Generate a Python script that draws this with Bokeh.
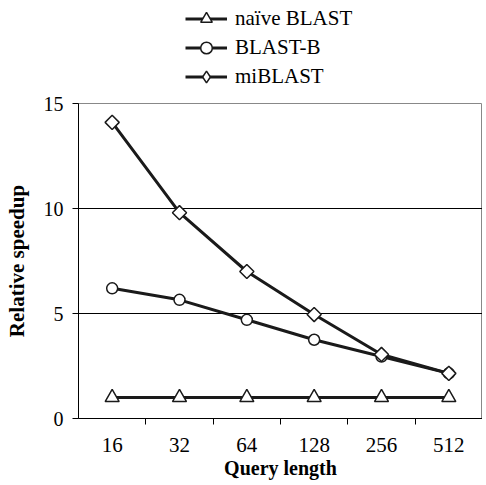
import math
from bokeh.plotting import figure
from bokeh.layouts import column
from bokeh.models import Legend, LegendItem, FixedTicker, Range1d
from bokeh.embed import file_html
from bokeh.resources import INLINE

# Data
query_lengths = ["16", "32", "64", "128", "256", "512"]
naive_blast = [1.0, 1.0, 1.0, 1.0, 1.0, 1.0]
blast_b = [6.2, 5.65, 4.7, 3.75, 2.95, 2.15]
miblast = [14.1, 9.8, 7.0, 4.95, 3.05, 2.15]
y_ticks = [0, 5, 10, 15]

FONT = "Times New Roman"
BOLD_FONT = "Liberation Serif"
LINE = "#1a1a1a"

xs = [i + 0.5 for i in range(len(query_lengths))]

p = figure(width=482, height=385, output_backend="svg", toolbar_location=None,
           x_range=Range1d(0, len(query_lengths)), y_range=Range1d(0, 15),
           min_border_left=78, min_border_right=0, min_border_top=7, min_border_bottom=63,
           background_fill_color="white", border_fill_color="white")

p.outline_line_color = "#888888"
p.outline_line_width = 1

# axes
p.xaxis.ticker = FixedTicker(ticks=xs, minor_ticks=list(range(1, len(query_lengths))))
p.xaxis.major_label_overrides = {x: lab for x, lab in zip(xs, query_lengths)}
p.xaxis.major_tick_line_color = None
p.xaxis.minor_tick_in = 0
p.xaxis.minor_tick_out = 6
p.xaxis.minor_tick_line_color = "black"
p.xaxis.axis_line_color = "black"
p.xaxis.major_label_standoff = 13
p.xaxis.axis_label = "Query length"
p.xaxis.axis_label_standoff = 2

p.yaxis.ticker = FixedTicker(ticks=y_ticks)
p.yaxis.minor_tick_line_color = None
p.yaxis.major_tick_in = 0
p.yaxis.major_tick_out = 6
p.yaxis.major_tick_line_color = "black"
p.yaxis.axis_line_color = "black"
p.yaxis.major_label_standoff = 9
p.yaxis.axis_label = "Relative speedup"
p.yaxis.axis_label_standoff = 12

for ax in (p.xaxis[0], p.yaxis[0]):
    ax.major_label_text_font = FONT
    ax.major_label_text_font_size = "20px"
    ax.major_label_text_color = "black"
    ax.major_label_text_line_height = 1.0
    ax.axis_label_text_font = BOLD_FONT
    ax.axis_label_text_font_style = "bold"
    ax.axis_label_text_color = "black"
    ax.axis_label_text_line_height = 1.0
p.xaxis.major_label_text_font_size = "21px"
p.xaxis.axis_label_text_font_size = "20px"
p.yaxis.axis_label_text_font_size = "21px"

p.xgrid.grid_line_color = None
p.ygrid.ticker = FixedTicker(ticks=y_ticks)
p.ygrid.grid_line_color = "black"
p.ygrid.grid_line_width = 1

series = [
    ("naïve BLAST", naive_blast, "triangle", 14, 0, "triangle"),
    ("BLAST-B", blast_b, "circle", 11, 0, "circle"),
    ("miBLAST", miblast, "square", 10, math.pi / 4, "diamond"),
]

# legend lives in its own strip above the chart
lg = figure(width=482, height=96, output_backend="svg", toolbar_location=None,
            x_axis_type=None, y_axis_type=None,
            x_range=Range1d(0, 1), y_range=Range1d(0, 1),
            min_border_left=0, min_border_right=0, min_border_top=0, min_border_bottom=0,
            background_fill_color="white", border_fill_color="white")
lg.outline_line_color = None
lg.grid.visible = False

nan = float("nan")
items = []
for label, ys, marker, size, angle, lmarker in series:
    p.line(xs, ys, line_color=LINE, line_width=3)
    p.scatter(xs, ys, marker=marker, size=size, angle=angle,
              fill_color="white", line_color=LINE, line_width=1.5)
    # legend-only proxies (a single NaN point, never visible)
    ln = lg.line(x=[nan], y=[nan], line_color=LINE, line_width=3)
    sc = lg.scatter(x=[nan], y=[nan], marker=lmarker, size=size,
                    fill_color="white", line_color=LINE, line_width=1.5)
    items.append(LegendItem(label=label, renderers=[ln, sc]))

legend = Legend(items=items, location=(107, 5), padding=0, margin=0, spacing=0,
                glyph_width=42, glyph_height=29, label_height=20, label_standoff=8,
                label_text_font=FONT, label_text_font_size="21px", label_text_color="black",
                border_line_color=None, background_fill_alpha=0)
lg.add_layout(legend)

layout = column(lg, p, spacing=0)
open("out.html", "w").write(file_html(layout, INLINE))
